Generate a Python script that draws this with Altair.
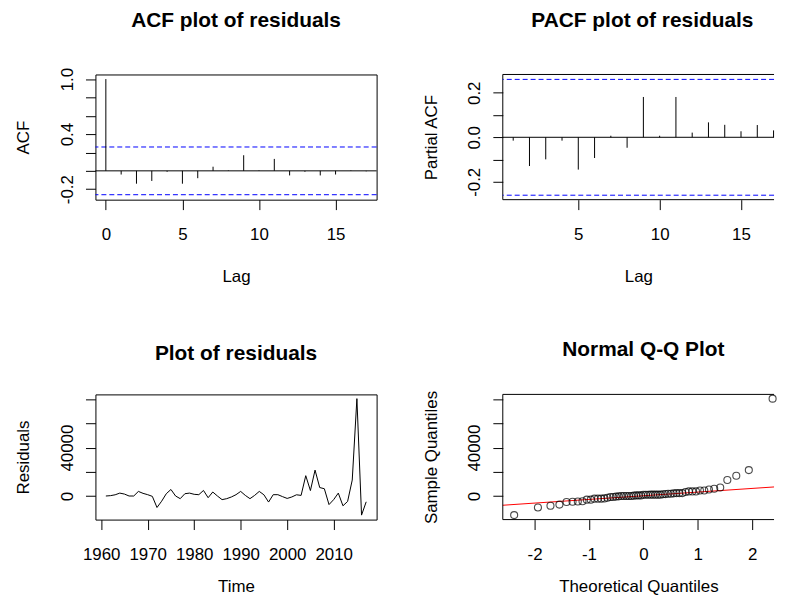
import altair as alt
import pandas as pd

FONT = "Liberation Sans, Arial, Helvetica, sans-serif"

# ---------------- data ----------------
years = list(range(1961, 2018))
residuals = [
    0, 300, 1000, 2400, 1600, 0, 0, 3800, 2200, 1100,
    -300, -9500, -4300, 1900, 5400, 0, -2200, 1900, 2400, 1400,
    1100, 4600, -1400, 3300, 0, -3000, -2200, -800, 1100, 3800,
    500, -2200, 500, 3800, 1000, -5000, 1100, 1100, -500, -2000,
    -800, 1000, 500, 16800, 4500, 21400, 7000, 6000, -7100, -3000,
    2400, -8100, -4500, 13200, 80500, -15800, -4800,
]

acf_lags = list(range(0, 18))
acf_values = [1.0, -0.04, -0.14, -0.11, -0.01, -0.14, -0.08, 0.045, 0.005,
              0.17, 0.005, 0.13, -0.05, -0.01, -0.05, -0.04, 0.005, -0.005]

pacf_lags = list(range(1, 18))
pacf_values = [-0.015, -0.129, -0.099, -0.015, -0.145, -0.093, 0.007, -0.047,
               0.181, 0.007, 0.181, 0.021, 0.067, 0.056, 0.027, 0.055, 0.031]

ci_bound = 0.26

qq_line_theo = [-3.0, 3.0]
qq_line_resid = [-8900, 9300]

# axis ticks and the labels R kept
acf_x_ticks = [0, 5, 10, 15]
acf_x_labels = [(0, "0"), (5, "5"), (10, "10"), (15, "15")]
acf_y_ticks = [-0.2, 0.0, 0.2, 0.4, 0.6, 0.8, 1.0]
acf_y_labels = [(-0.2, "-0.2"), (0.4, "0.4"), (1.0, "1.0")]

pacf_x_ticks = [5, 10, 15]
pacf_x_labels = [(5, "5"), (10, "10"), (15, "15")]
pacf_y_ticks = [-0.2, -0.1, 0.0, 0.1, 0.2]
pacf_y_labels = [(-0.2, "-0.2"), (0.0, "0.0"), (0.2, "0.2")]

time_x_ticks = [1960, 1970, 1980, 1990, 2000, 2010]
time_x_labels = [(1960, "1960"), (1970, "1970"), (1980, "1980"),
                 (1990, "1990"), (2000, "2000"), (2010, "2010")]
resid_y_ticks = [0, 20000, 40000, 60000, 80000]
resid_y_labels = [(0, "0"), (40000, "40000")]

qq_x_ticks = [-2, -1, 0, 1, 2]
qq_x_labels = [(-2, "-2"), (-1, "-1"), (0, "0"), (1, "1"), (2, "2")]

# ---------------- helpers ----------------
W, H = 283, 126      # left column plot size
WR = 273             # right column: the window cuts the reference panel here
TOP_TITLE_Y = 82     # x-axis title distance (top row)
BOTTOM_TITLE_Y = 72  # bottom row, kept inside the window


def label_expr(pairs):
    expr = "''"
    for v, lbl in pairs:
        expr = f"abs(datum.value - ({v})) < 1e-6 ? '{lbl}' : ({expr})"
    return expr


def xenc(field, title, domain, ticks, labels, title_y):
    return alt.X(field, title=title,
                 scale=alt.Scale(domain=domain, nice=False, zero=False),
                 axis=alt.Axis(values=ticks, labelExpr=label_expr(labels), titleY=title_y))


def yenc(field, title, domain, ticks, labels):
    return alt.Y(field, title=title,
                 scale=alt.Scale(domain=domain, nice=False, zero=False),
                 axis=alt.Axis(values=ticks, labelExpr=label_expr(labels)))


def open_box(xfield, xargs, yfield, yargs):
    """Top, bottom and left frame lines (the right edge lies outside the window)."""
    h_df = pd.DataFrame({yfield: [yargs[1][0], yargs[1][1]]})
    v_df = pd.DataFrame({xfield: [xargs[1][0]]})
    h = alt.Chart(h_df).mark_rule(color="black", strokeWidth=1).encode(
        y=yenc(f"{yfield}:Q", *yargs))
    v = alt.Chart(v_df).mark_rule(color="black", strokeWidth=1).encode(
        x=xenc(f"{xfield}:Q", *xargs))
    return [h, v]


# ---------------- ACF panel ----------------
acf_df = pd.DataFrame({"lag": acf_lags, "acf": acf_values})
acf_ci_df = pd.DataFrame({"acf": [ci_bound, -ci_bound]})
acf_zero_df = pd.DataFrame({"acf": [0.0]})
acf_xd, acf_yd = [-0.68, 17.68], [-0.314, 1.05]

acf_stems = alt.Chart(acf_df).mark_rule(color="black", strokeWidth=1).encode(
    x=xenc("lag:Q", "Lag", acf_xd, acf_x_ticks, acf_x_labels, TOP_TITLE_Y),
    y=yenc("acf:Q", "ACF", acf_yd, acf_y_ticks, acf_y_labels),
    y2=alt.datum(0),
)
acf_zero = alt.Chart(acf_zero_df).mark_rule(color="black", strokeWidth=1).encode(
    y=yenc("acf:Q", "ACF", acf_yd, acf_y_ticks, acf_y_labels))
acf_ci = alt.Chart(acf_ci_df).mark_rule(color="#0000FF", strokeWidth=1, strokeDash=[5, 3]).encode(
    y=yenc("acf:Q", "ACF", acf_yd, acf_y_ticks, acf_y_labels))
p1 = alt.layer(acf_zero, acf_ci, acf_stems).properties(
    width=W, height=H, title=alt.TitleParams(text="ACF plot of residuals", offset=36.4))

# ---------------- PACF panel ----------------
pacf_df = pd.DataFrame({"lag": pacf_lags, "pacf": pacf_values})
pacf_ci_df = pd.DataFrame({"pacf": [ci_bound, -ci_bound]})
pacf_zero_df = pd.DataFrame({"pacf": [0.0]})
pacf_xd, pacf_yd = [0.36, 0.36 + 17.28 * WR / W], [-0.28, 0.282]
pacf_xargs = ("Lag", pacf_xd, pacf_x_ticks, pacf_x_labels, TOP_TITLE_Y)
pacf_yargs = ("Partial ACF", pacf_yd, pacf_y_ticks, pacf_y_labels)

pacf_stems = alt.Chart(pacf_df).mark_rule(color="black", strokeWidth=1).encode(
    x=xenc("lag:Q", *pacf_xargs),
    y=yenc("pacf:Q", *pacf_yargs),
    y2=alt.datum(0),
)
pacf_zero = alt.Chart(pacf_zero_df).mark_rule(color="black", strokeWidth=1).encode(
    y=yenc("pacf:Q", *pacf_yargs))
pacf_ci = alt.Chart(pacf_ci_df).mark_rule(color="#0000FF", strokeWidth=1, strokeDash=[5, 3]).encode(
    y=yenc("pacf:Q", *pacf_yargs))
p2 = alt.layer(*open_box("lag", pacf_xargs, "pacf", pacf_yargs),
               pacf_zero, pacf_stems, pacf_ci).properties(
    width=WR, height=H, view=alt.ViewBackground(stroke="transparent"),
    title=alt.TitleParams(text="PACF plot of residuals", offset=43.6, dx=4))

# ---------------- residual time plot ----------------
resid_df = pd.DataFrame({"year": years, "resid": residuals})
time_xd, resid_yd = [1958.76, 2019.24], [-19500, 84000]

p3 = alt.Chart(resid_df).mark_line(color="black", strokeWidth=1).encode(
    x=xenc("year:Q", "Time", time_xd, time_x_ticks, time_x_labels, BOTTOM_TITLE_Y),
    y=yenc("resid:Q", "Residuals", resid_yd, resid_y_ticks, resid_y_labels),
).properties(width=W, height=H, title=alt.TitleParams(text="Plot of residuals", offset=30.6))

# ---------------- normal Q-Q plot ----------------
qq_xd = [-2.584, -2.584 + 5.168 * WR / W]
qq_xargs = ("Theoretical Quantiles", qq_xd, qq_x_ticks, qq_x_labels, BOTTOM_TITLE_Y)
qq_yargs = ("Sample Quantiles", resid_yd, resid_y_ticks, resid_y_labels)

qq_points = alt.Chart(resid_df).transform_window(
    rank="row_number()", sort=[alt.SortField("resid", order="ascending")]
).transform_joinaggregate(n="count()").transform_calculate(
    theo="quantileNormal((datum.rank - 0.5) / datum.n)"
).mark_point(shape="circle", filled=False, color="black", size=50, strokeWidth=1.1).encode(
    x=xenc("theo:Q", *qq_xargs),
    y=yenc("resid:Q", *qq_yargs),
)
qq_line_df = pd.DataFrame({"theo": qq_line_theo, "resid": qq_line_resid})
qq_line = alt.Chart(qq_line_df).mark_line(color="#FF0000", strokeWidth=1, clip=True).encode(
    x=xenc("theo:Q", *qq_xargs),
    y=yenc("resid:Q", *qq_yargs),
)
p4 = alt.layer(qq_line, qq_points, *open_box("theo", qq_xargs, "resid", qq_yargs)).properties(
    width=WR, height=H, view=alt.ViewBackground(stroke="transparent"),
    title=alt.TitleParams(text="Normal Q-Q Plot", offset=30.6, dx=5))

# ---------------- assemble ----------------
chart = alt.concat(
    p1, p2, p3, p4, columns=2, spacing={"row": 196, "column": 127}, bounds="flush"
).properties(
    padding={"left": 6, "top": -1, "right": 0, "bottom": 0}
).configure(font=FONT).configure_view(
    stroke="black", strokeWidth=1
).configure_axis(
    domain=False, grid=False, ticks=True, tickColor="black", tickSize=10, tickWidth=1,
    labelFont=FONT, labelFontSize=17, labelColor="black", labelFlush=False, labelOverlap=False,
    titleFont=FONT, titleFontSize=17, titleFontWeight="normal", titleColor="black",
).configure_axisX(
    labelBaseline="top", labelPadding=17, labelAlign="center",
    titleBaseline="alphabetic",
).configure_axisY(
    labelAngle=270, labelAlign="center", labelBaseline="alphabetic", labelPadding=13.5,
    titleAngle=270, titleBaseline="alphabetic", titleX=-67, titleAlign="center",
).configure_title(
    font=FONT, fontSize=21, fontWeight="bold", color="black", anchor="middle",
    frame="group", baseline="alphabetic",
)

chart.save("out.html", embed_options={"renderer": "svg", "actions": False})
